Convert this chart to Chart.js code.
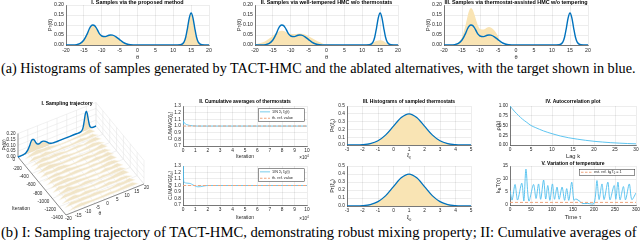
<!DOCTYPE html>
<html><head><meta charset="utf-8">
<script src="https://cdn.jsdelivr.net/npm/chart.js@4.4.1/dist/chart.umd.min.js"></script>
<style>
html,body{margin:0;padding:0;background:#fff;}
body{width:640px;height:240px;position:relative;overflow:hidden;}
canvas{position:absolute;}
.cap{position:absolute;left:1px;white-space:nowrap;font-family:"Liberation Serif","DejaVu Serif",serif;color:#000;line-height:1;}
</style></head><body>
<div class="cap" id="capA">(a) Histograms of samples generated by TACT-HMC and the ablated alternatives, with the target shown in blue.</div>
<div class="cap" id="capB">(b) I: Sampling trajectory of TACT-HMC, demonstrating robust mixing property; II: Cumulative averages of</div>
<script>
// ================= DATA =================
// (a) top row histograms
const thetaGrid = [-20,-18,-17,-16,-15,-14,-13.5,-13,-12.5,-12,-11.5,-11,-10.5,-10,-9,-8,-7.5,-7,-6,-5,-4,-3,-2,0,5,10,12,13,13.5,14,14.5,15,15.5,16,16.5,17,18,20];
const targetPdf = [0,0,0.002,0.008,0.025,0.058,0.08,0.095,0.1,0.097,0.085,0.068,0.053,0.045,0.042,0.049,0.05,0.049,0.041,0.027,0.013,0.005,0.001,0,0,0,0.001,0.014,0.04,0.086,0.137,0.16,0.137,0.086,0.04,0.014,0.001,0];
const histProposed = [0,0,0.002,0.009,0.026,0.058,0.079,0.094,0.099,0.096,0.085,0.068,0.054,0.046,0.043,0.049,0.05,0.049,0.041,0.027,0.013,0.005,0.001,0,0,0,0.001,0.014,0.04,0.086,0.136,0.158,0.136,0.085,0.04,0.014,0.001,0];
const histTempered = [0.003,0.012,0.02,0.032,0.046,0.06,0.066,0.07,0.071,0.07,0.066,0.062,0.058,0.056,0.055,0.056,0.057,0.056,0.052,0.044,0.034,0.024,0.015,0.002,0,0,0.002,0.01,0.016,0.021,0.023,0.024,0.023,0.019,0.013,0.008,0.002,0];
const histThermo = [0,0,0.002,0.012,0.04,0.1,0.14,0.172,0.185,0.175,0.15,0.12,0.095,0.08,0.077,0.087,0.09,0.087,0.072,0.045,0.004,0,0,0,0,0,0,0,0,0,0,0,0,0,0,0,0,0];
const topTitles = ['I. Samples via the proposed method','II. Samples via well-tempered HMC w/o thermostats','III. Samples via thermostat-assisted HMC w/o tempering'];
const thetaTicks = [-20,20,5];
const pdfTicks = [0,0.2,0.05];

// (b-I) sampling trajectory (3D)
const sliceIters = [-90,-180,-270,-360,-450,-540,-630,-720,-810,-900,-990,-1080,-1170,-1260,-1350];
const sliceTheta = [-18,-15,-12,-9,-6,-3,0,3,6,9,12,15,18];
const sliceHeights = [
 [0,0.025,0.04,0.03,0.03,0.02,0.012,0.012,0.015,0.02,0.025,0.04,0],
 [0,0.03,0.025,0.035,0.02,0.015,0.02,0.015,0.02,0.03,0.02,0.03,0],
 [0,0.02,0.035,0.025,0.03,0.025,0.015,0.02,0.025,0.015,0.03,0.035,0],
 [0,0.035,0.03,0.02,0.025,0.03,0.02,0.015,0.02,0.025,0.035,0.025,0],
 [0,0.025,0.04,0.03,0.02,0.02,0.025,0.02,0.015,0.02,0.025,0.04,0],
 [0,0.03,0.025,0.035,0.03,0.015,0.015,0.025,0.03,0.02,0.03,0.03,0],
 [0,0.02,0.03,0.025,0.035,0.025,0.02,0.015,0.02,0.03,0.025,0.035,0],
 [0,0.03,0.035,0.02,0.025,0.03,0.025,0.02,0.025,0.02,0.03,0.04,0],
 [0,0.025,0.03,0.035,0.02,0.02,0.015,0.025,0.02,0.025,0.035,0.03,0],
 [0,0.035,0.025,0.03,0.03,0.025,0.02,0.02,0.015,0.03,0.025,0.035,0],
 [0,0.02,0.04,0.025,0.02,0.03,0.025,0.015,0.025,0.02,0.03,0.03,0],
 [0,0.03,0.03,0.035,0.025,0.02,0.02,0.025,0.02,0.025,0.035,0.04,0],
 [0,0.025,0.035,0.02,0.03,0.025,0.015,0.02,0.03,0.02,0.03,0.025,0],
 [0,0.03,0.025,0.03,0.025,0.03,0.025,0.015,0.02,0.03,0.025,0.035,0],
 [0,0.02,0.03,0.025,0.02,0.02,0.02,0.025,0.02,0.025,0.03,0.03,0]
];
const iterTicks = [0,-200,-400,-600,-800,-1000,-1200,-1400];
const theta3Ticks = [-20,-15,-10,-5,0,5,10,15,20];
const pr3Ticks = [0,0.05,0.1,0.15,0.2];

// (b-II) cumulative averages (iteration in units of 1e4)
const cumIterA = [0,0.02,0.04,0.06,0.1,0.15,0.2,0.3,0.5,0.8,1.2,2,3,4,5,6,7,8,9,10];
const cumXi = [1.0,1.08,1.04,1.06,1.05,1.04,1.03,1.02,1.01,1.003,1.0,1.0,1.0,1.0,1.0,1.0,1.0,1.0,1.0,1.0];
const cumIterB = [0,0.02,0.05,0.1,0.2,0.4,0.6,0.8,1.0,1.2,1.4,1.7,2,3,4,5,6,7,8,9,10];
const cumTheta = [1.0,1.3,1.08,1.05,1.04,1.035,1.03,1.01,0.99,0.98,0.982,0.993,1.0,1.0,1.0,1.0,1.0,1.0,1.0,1.0,1.0];
const cumRefX = [0,10];
const cumRefVal = [1,1];

// (b-III) thermostat histograms
const xiGrid = [-3,-2.5,-2,-1.5,-1,-0.5,0,0.5,1,1.5,2,2.5,3,3.5,4,4.5,5];
const xiPdf = [0.0001,0.0009,0.0044,0.0175,0.054,0.1295,0.242,0.352,0.399,0.352,0.242,0.1295,0.054,0.0175,0.0044,0.0009,0.0001];
const xiHist = [0.0002,0.001,0.0045,0.018,0.055,0.13,0.243,0.351,0.398,0.353,0.241,0.13,0.055,0.018,0.0045,0.001,0.0002];

// (b-IV) autocorrelation
const lags = [0,1,2,3,4,5,6,8,10,12,14,16,18,20,22,24,26,28,30];
const acf = [1,0.87,0.76,0.66,0.58,0.5,0.45,0.36,0.29,0.23,0.185,0.15,0.12,0.095,0.076,0.06,0.048,0.038,0.03];

// (b-V) temperature
const tau = [0,5,12,18,28,33,38,45,56,62,68,73,80,85,90,95,101,106,112,117,124,130,135,140,147,152,157,162,168,172,185,200,207,212,219,224,233,238,248,252,257,262,270,275,284,290,300];
const temp = [5.6,1.9,7.9,1.9,8.4,1.6,13.8,1.5,7.9,2.5,8.1,2.2,9.6,2.3,7.5,1.8,8.1,2.2,6.9,2.2,6.9,1.8,6.3,1.8,8.8,1.9,2.3,1.9,1.2,0.6,0.6,0.6,9.4,2.1,8.1,2.1,8.8,2.0,7.5,2.2,8.8,2.0,7.1,2.0,8.1,2.1,4.6];
const tempRefX = [0,300];
const tempRefVal = [1,1];

// ================= STYLE / HELPERS =================
const FF = '"Liberation Sans", Arial, Helvetica, sans-serif';
const AXC = '#262626';
const GRIDC = 'rgba(38,38,38,0.14)';
const BLUE = '#0072BD';
const CYAN = '#4DBEEE';
const TAN = '#f9e4b4';
const ORANGE = '#EFA57E';

function pts(xs, ys){ return xs.map((x,i)=>({x:x,y:ys[i]})); }
function makeCanvas(left, top, w, h){
  const c = document.createElement('canvas');
  c.width = w; c.height = h;
  c.style.left = left+'px'; c.style.top = top+'px';
  c.style.width = w+'px'; c.style.height = h+'px';
  document.body.appendChild(c);
  return c;
}
function drawRich(ctx, segs, x, y, size, o){
  o = o || {};
  ctx.save();
  ctx.translate(x, y);
  if (o.rot) ctx.rotate(o.rot);
  ctx.fillStyle = o.color || AXC;
  ctx.textBaseline = 'middle';
  ctx.textAlign = 'left';
  const w8 = o.bold ? 'bold ' : '';
  const parts = segs.map(s => typeof s === 'string' ? {t:s} : Object.assign({}, s));
  let total = 0;
  parts.forEach(p => { p.fs = (p.sub||p.sup) ? size*0.7 : size; ctx.font = w8 + p.fs + 'px ' + FF; p.w = ctx.measureText(p.t).width; total += p.w; });
  let cx = o.align === 'left' ? 0 : (o.align === 'right' ? -total : -total/2);
  parts.forEach(p => { ctx.font = w8 + p.fs + 'px ' + FF; const dy = p.sub ? size*0.3 : (p.sup ? -size*0.35 : 0); ctx.fillText(p.t, cx, dy); cx += p.w; });
  ctx.restore();
}
function drawLegend(ctx, x, y, w, h, entries, size){
  ctx.save();
  ctx.fillStyle = '#fff';
  ctx.fillRect(x, y, w, h);
  ctx.strokeStyle = AXC; ctx.lineWidth = 0.5;
  ctx.strokeRect(x+0.25, y+0.25, w-0.5, h-0.5);
  const rowH = h / entries.length;
  entries.forEach((e, i) => {
    const cy = y + rowH*(i+0.5);
    ctx.beginPath();
    ctx.strokeStyle = e.color; ctx.lineWidth = e.lw || 1;
    ctx.setLineDash(e.dash || []);
    ctx.moveTo(x+2, cy); ctx.lineTo(x+2+e.len, cy); ctx.stroke();
    ctx.setLineDash([]);
    drawRich(ctx, e.text, x+4+e.len, cy, size, {align:'left'});
  });
  ctx.restore();
}

function chart2d(p){
  const ML = 40, MT = 14, MR = 8, MB = 22;
  const l = p.rect[0], t = p.rect[1], r = p.rect[2], b = p.rect[3];
  const cl = l - ML, ct = t - MT;
  const cv = makeCanvas(cl, ct, (r-l)+ML+MR, (b-t)+MT+MB);
  const deco = {
    id: 'deco',
    afterDraw(chart){
      const ctx = chart.ctx, ca = chart.chartArea;
      if (p.title) drawRich(ctx, p.title, (ca.left+ca.right)/2, ca.top - p.titleDy, p.titleSize, {bold:true, color:'#000'});
      if (p.xtitle) drawRich(ctx, p.xtitle, (ca.left+ca.right)/2, p.xtitleY - ct, p.axSize);
      if (p.ytitle) drawRich(ctx, p.ytitle, p.ytitleX - cl, (ca.top+ca.bottom)/2, p.axSize, {rot:-Math.PI/2});
      if (p.extra) p.extra(ctx, cl, ct, chart);
    }
  };
  return new Chart(cv, {
    type: 'scatter',
    data: {datasets: p.datasets},
    options: {
      responsive: false, animation: false, events: [],
      layout: {padding: {top: MT, right: MR, left: 0, bottom: 0}},
      plugins: {legend: {display: false}, tooltip: {enabled: false}, title: {display: false}},
      scales: {
        x: {type: 'linear', min: p.x[0], max: p.x[1],
            afterFit(s){ s.height = MB; },
            ticks: {stepSize: p.x[2], padding: 2, font: {family: FF, size: p.tickSize}, color: AXC, maxRotation: 0, autoSkip: false,
                    callback: v => v.toFixed(p.xdec || 0)},
            grid: {color: GRIDC, drawTicks: false, lineWidth: 0.6},
            border: {display: true, color: AXC, width: 0.6}},
        y: {type: 'linear', min: p.y[0], max: p.y[1],
            afterFit(s){ s.width = ML; },
            ticks: {stepSize: p.y[2], padding: 2, font: {family: FF, size: p.tickSize}, color: AXC, autoSkip: false,
                    callback: v => v.toFixed(p.ydec || 0)},
            grid: {color: GRIDC, drawTicks: false, lineWidth: 0.6},
            border: {display: true, color: AXC, width: 0.6}}
      }
    },
    plugins: [deco]
  });
}
function lineDs(data, color, width, extra){
  return Object.assign({data: data, showLine: true, pointRadius: 0, borderColor: color, borderWidth: width,
    backgroundColor: color, fill: false, cubicInterpolationMode: 'monotone', order: 1}, extra || {});
}
function areaDs(data, color){
  return {data: data, showLine: true, pointRadius: 0, borderWidth: 0, borderColor: 'rgba(0,0,0,0)',
    backgroundColor: color, fill: 'origin', cubicInterpolationMode: 'monotone', order: 5};
}

// ================= (a) TOP ROW =================
const topRects = [[66,5,209,45],[255,5,398,45],[444,5,588,45]];
const topHists = [histProposed, histTempered, histThermo];
topRects.forEach((rc, i) => {
  chart2d({
    rect: rc, x: thetaTicks, y: pdfTicks, ydec: 2, tickSize: 5.2,
    title: [topTitles[i]], titleDy: 2.6, titleSize: 5.4,
    xtitle: ['θ'], xtitleY: 57.5, ytitle: ['Pr(θ)'], ytitleX: rc[0]-16, axSize: 5.6,
    datasets: [
      lineDs(pts(thetaGrid, targetPdf), BLUE, 1.4, {order: 0}),
      areaDs(pts(thetaGrid, topHists[i]), TAN)
    ]
  });
});

// ================= (b-I) 3D TRAJECTORY =================
(function(){
  const CL = 0, CT = 88, CW = 152, CH = 136;
  const P = {ox: 18, oy: 157, ax: 78/40, ay: -31/40, bx: 48/1400, by: 58/1400, cz: -23.5/0.2};
  const proj = (th, it, z) => ({x: P.ox + (th+20)*P.ax - it*P.bx, y: P.oy + (th+20)*P.ay - it*P.by + z*P.cz});
  const ds = [];
  const gridLine = (a, b) => ds.push({data: [a, b], showLine: true, pointRadius: 0, borderColor: '#e2e2e2', borderWidth: 0.5, fill: false});
  // back wall (iteration = 0)
  theta3Ticks.forEach(th => gridLine(proj(th,0,0), proj(th,0,0.2)));
  pr3Ticks.forEach(z => gridLine(proj(-20,0,z), proj(20,0,z)));
  // right wall (theta = 20)
  iterTicks.forEach(it => gridLine(proj(20,it,0), proj(20,it,0.2)));
  pr3Ticks.forEach(z => gridLine(proj(20,0,z), proj(20,-1400,z)));
  // floor
  theta3Ticks.forEach(th => gridLine(proj(th,0,0), proj(th,-1400,0)));
  iterTicks.forEach(it => gridLine(proj(-20,it,0), proj(20,it,0)));
  const shape = (ths, hs, it) => {
    const top = ths.map((th,j) => proj(th, it, hs[j]));
    const base = ths.slice().reverse().map(th => proj(th, it, 0));
    return top.concat(base);
  };
  // slice under target curve (back)
  ds.push({data: shape(thetaGrid, histProposed, -8), showLine: true, pointRadius: 0, borderWidth: 0,
           backgroundColor: 'rgba(240,224,188,0.9)', borderColor: 'rgba(0,0,0,0)', fill: 'shape', tension: 0});
  // trajectory slices, back to front
  sliceIters.forEach((it, k) => {
    ds.push({data: shape(sliceTheta, sliceHeights[k], it), showLine: true, pointRadius: 0, borderWidth: 0.6,
             backgroundColor: 'rgba(238,222,186,0.8)', borderColor: 'rgba(252,248,240,0.95)', fill: 'shape', tension: 0});
  });
  // axes
  const axLine = (a, b) => ds.push({data: [a, b], showLine: true, pointRadius: 0, borderColor: AXC, borderWidth: 0.5, fill: false});
  axLine(proj(-20,0,0), proj(-20,0,0.2));
  axLine(proj(-20,0,0), proj(-20,-1400,0));
  axLine(proj(-20,-1400,0), proj(20,-1400,0));
  // target curve at iteration 0
  ds.push({data: thetaGrid.map((th,j) => proj(th, 0, targetPdf[j])), showLine: true, pointRadius: 0,
           borderColor: BLUE, borderWidth: 1.4, fill: false, cubicInterpolationMode: 'monotone'});
  const N = ds.length;
  ds.forEach((d, i) => { d.order = N - i; });

  const cv = makeCanvas(CL, CT, CW, CH);
  const deco = {
    id: 'deco3d',
    afterDraw(chart){
      const ctx = chart.ctx;
      const sx = v => chart.scales.x.getPixelForValue(v);
      const sy = v => chart.scales.y.getPixelForValue(v);
      const T = (q, dx, dy, txt, align, size) => drawRich(ctx, [txt], sx(q.x)+dx, sy(q.y)+dy, size || 4.6, {align: align});
      pr3Ticks.forEach(z => T(proj(-20,0,z), -2.5, 0, z.toFixed(2), 'right'));
      iterTicks.forEach(it => T(proj(-20,it,0), -3, 3.2, String(it), 'right'));
      theta3Ticks.forEach(th => T(proj(th,-1400,0), 2.5, 4.2, String(th), 'center'));
      drawRich(ctx, ['Pr(θ)'], sx(4.5), sy(145), 5, {rot: -Math.PI/2});
      drawRich(ctx, ['Iteration'], sx(21), sy(209), 5);
      drawRich(ctx, ['θ'], sx(100), sy(213.5), 5);
      drawRich(ctx, ['I. Sampling trajectory'], sx(67), sy(103.5), 5, {bold: true, color: '#000'});
    }
  };
  new Chart(cv, {
    type: 'scatter',
    data: {datasets: ds},
    options: {
      responsive: false, animation: false, events: [],
      layout: {padding: 0},
      plugins: {legend: {display: false}, tooltip: {enabled: false}},
      scales: {
        x: {type: 'linear', display: false, min: CL, max: CL+CW},
        y: {type: 'linear', display: false, min: CT, max: CT+CH, reverse: true}
      }
    },
    plugins: [deco]
  });
})();

// ================= (b-II) CUMULATIVE AVERAGES =================
const xi = 'ξ';
const times4 = (ctx, cl, ct, chart, yy) => drawRich(ctx, ['×10', {t:'4', sup:true}], chart.chartArea.right - 3, yy - ct, 4.6);
const cumLegend = (ctx, cl, ct, chart, subT) => {
  const ca = chart.chartArea;
  drawLegend(ctx, ca.right - 49, ca.top + 2.5, 46.5, 13, [
    {color: '#a8def2', lw: 1.6, len: 10, text: ['1/N Σ', {t:'t', sub:true}, ' ' + xi, {t: subT, sub:true}, '(t)']},
    {color: ORANGE, lw: 1, dash: [2.5,1.5], len: 10, text: ['th. ref. value']}
  ], 3.8);
};
chart2d({
  rect: [183,106,307,146], x: [0,10,1], y: [0.7,1.3,0.1], ydec: 1, tickSize: 4.8,
  title: ['II. Cumulative averages of thermostats'], titleDy: 4.8, titleSize: 5,
  xtitle: ['Iteration'], xtitleY: 157, ytitle: ['CUMAVG(' + xi, {t: xi, sub: true}, ')'], ytitleX: 171, axSize: 5,
  datasets: [
    lineDs(pts(cumRefX, cumRefVal), ORANGE, 1, {borderDash: [3,2], order: 0}),
    lineDs(pts(cumIterA, cumXi), CYAN, 0.8, {order: 1})
  ],
  extra: (ctx, cl, ct, chart) => { times4(ctx, cl, ct, chart, 157.5); cumLegend(ctx, cl, ct, chart, xi); }
});
chart2d({
  rect: [183,166,307,205], x: [0,10,1], y: [0.7,1.3,0.1], ydec: 1, tickSize: 4.8,
  xtitle: ['Iteration'], xtitleY: 217.5, ytitle: ['CUMAVG(' + xi, {t: 'θ', sub: true}, ')'], ytitleX: 171, axSize: 5,
  datasets: [
    lineDs(pts(cumRefX, cumRefVal), ORANGE, 1, {borderDash: [3,2], order: 0}),
    lineDs(pts(cumIterB, cumTheta), CYAN, 0.8, {order: 1})
  ],
  extra: (ctx, cl, ct, chart) => { times4(ctx, cl, ct, chart, 218.5); cumLegend(ctx, cl, ct, chart, 'θ'); }
});

// ================= (b-III) THERMOSTAT HISTOGRAMS =================
[[347,106,471,145, xi, 156],[347,166,471,206,'θ', 218]].forEach((rc, i) => {
  chart2d({
    rect: rc.slice(0,4), x: [-3,5,1], y: [0,0.5,0.1], ydec: 1, tickSize: 4.8,
    title: i === 0 ? ['III. Histograms of sampled thermostats'] : null, titleDy: 4.8, titleSize: 5,
    xtitle: [xi, {t: rc[4], sub: true}], xtitleY: rc[5], ytitle: ['Pr(' + xi, {t: rc[4], sub: true}, ')'], ytitleX: 333, axSize: 5.4,
    datasets: [
      lineDs(pts(xiGrid, xiPdf), BLUE, 1.3, {order: 0}),
      areaDs(pts(xiGrid, xiHist), TAN)
    ]
  });
});

// ================= (b-IV) AUTOCORRELATION =================
chart2d({
  rect: [510,106,636,145], x: [0,30,5], y: [0,1,0.25], ydec: 2, tickSize: 4.8,
  title: ['IV. Autocorrelation plot'], titleDy: 4.3, titleSize: 5,
  xtitle: ['Lag k'], xtitleY: 156, ytitle: ['ρ(k)'], ytitleX: 498, axSize: 5.8,
  datasets: [ lineDs(pts(lags, acf), CYAN, 0.9) ]
});

// ================= (b-V) TEMPERATURE =================
chart2d({
  rect: [510,166,636,205], x: [0,300,50], y: [0,15,5], ydec: 0, tickSize: 4.8,
  title: ['V. Variation of temperature'], titleDy: 2.8, titleSize: 5,
  xtitle: ['Time τ'], xtitleY: 217, ytitle: ['k', {t:'B', sub:true}, 'T(τ)'], ytitleX: 498, axSize: 5.8,
  datasets: [
    lineDs(pts(tempRefX, tempRefVal), ORANGE, 1, {borderDash: [3,2], order: 0}),
    lineDs(pts(tau, temp), CYAN, 0.9, {order: 1, cubicInterpolationMode: 'default', tension: 0.3})
  ],
  extra: (ctx, cl, ct, chart) => {
    const ca = chart.chartArea;
    drawLegend(ctx, ca.right - 57, ca.top + 3, 56, 6.5, [
      {color: ORANGE, lw: 1, dash: [2.5,1.5], len: 11, text: ['est. ref. k', {t:'B', sub:true}, 'T', {t:'0', sub:true}, ' = 1']}
    ], 3.8);
  }
});

// ================= CAPTIONS =================
(function(){
  const mc = document.createElement('canvas').getContext('2d');
  const fit = (id, width, baseline) => {
    const el = document.getElementById(id);
    mc.font = '14px "Liberation Serif"';
    const w = mc.measureText(el.textContent).width;
    const s = 14 * width / w;
    el.style.fontSize = s + 'px';
    el.style.top = (baseline - 0.8375 * s) + 'px';
  };
  fit('capA', 635, 73.3);
  fit('capB', 637, 237);
})();
</script>
</body></html>
